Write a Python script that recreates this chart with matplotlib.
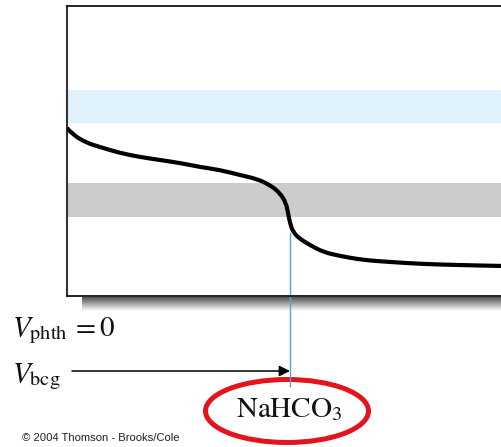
import matplotlib
matplotlib.use("Agg")
import matplotlib.pyplot as plt
import numpy as np
from matplotlib.patches import Ellipse, PathPatch
from matplotlib.path import Path

plt.rcParams['mathtext.fontset'] = 'stix'

# Titration curve (volume, potential)
volume = [0, 0.6, 2.0, 3.3, 5.3, 7.3, 9.3, 11.3, 13.3, 15.3, 17.3, 19.0, 20.3, 21.3,
          21.9, 22.1, 22.3, 22.6, 23.3, 24.3, 25.6, 27.3, 29.6, 32.3, 35.6, 39.0,
          43.5, 44.5]
potential = [16.8, 16.1, 15.3, 14.9, 14.3, 13.9, 13.6, 13.3, 12.9, 12.6, 12.1, 11.7,
             11.1, 10.3, 9.3, 8.3, 7.3, 6.4, 5.7, 5.1, 4.4, 4.0, 3.6, 3.4, 3.2, 3.1,
             3.0, 3.0]

# indicator transition ranges
phth_band = (17.3, 20.6)
bcg_band = (7.9, 11.3)
v_bcg = 22.3
endpoint_label = "NaHCO$_3$"

W, H = 502, 447
fig = plt.figure(figsize=(W / 100, H / 100), dpi=100)

def px_rect(x0, y0, x1, y1):
    return [x0 / W, 1 - y1 / H, (x1 - x0) / W, (y1 - y0) / H]

# shadow under the box
sax = fig.add_axes(px_rect(82, 297, 502, 311))
grad = np.linspace(0.33, 1.0, 64).reshape(-1, 1)
sax.imshow(grad, cmap='gray', vmin=0, vmax=1, aspect='auto', extent=[0, 1, 0, 1])
sax.set_axis_off()

ax = fig.add_axes(px_rect(67, 6, 512, 296))
ax.set_xlim(0, 44.5)
ax.set_ylim(0, 29)
ax.set_xticks([])
ax.set_yticks([])
for s in ['top', 'bottom']:
    ax.spines[s].set_color('#111111')
    ax.spines[s].set_linewidth(1.3)
ax.spines['left'].set_color('#333333')
ax.spines['left'].set_linewidth(1.5)
ax.spines['right'].set_visible(False)

ax.axhspan(*phth_band, color='#DFF1FB', lw=0, zorder=1)
ax.axhspan(*bcg_band, color='#CCCCCC', lw=0, zorder=1)

# smooth rendering of the read points (quadratic Bezier through midpoints)
pts = np.column_stack([volume, potential])
verts = [pts[0]]
codes = [Path.MOVETO]
for i in range(1, len(pts) - 1):
    mid = (pts[i] + pts[i + 1]) / 2
    verts += [pts[i], mid]
    codes += [Path.CURVE3, Path.CURVE3]
verts.append(pts[-1])
codes.append(Path.LINETO)
ax.add_patch(PathPatch(Path(verts, codes), fill=False, edgecolor='black', lw=3.0,
                       capstyle='butt', joinstyle='round', zorder=3))

# vertical endpoint line
ax.plot([v_bcg, v_bcg], [6.3, -9.0], color='#4FA9CB', lw=1.0, clip_on=False, zorder=2)

# arrow
ax.annotate('', xy=(v_bcg, -7.5), xytext=(0.5, -7.5),
            arrowprops=dict(arrowstyle='-|>', color='black', lw=1.1,
                            mutation_scale=16, shrinkA=0, shrinkB=0),
            annotation_clip=False)

ax.text(-5.45, -4.0, r"$V_{\mathrm{phth}}\,=0$", fontsize=21, ha='left', va='baseline',
        color='#111111')
ax.text(-5.45, -8.6, r"$V_{\mathrm{bcg}}$", fontsize=21, ha='left', va='baseline',
        color='#111111')

ell = Ellipse((22.0, -11.5), 16.3, 6.3, fill=False, edgecolor='#E3141B', lw=3.6,
              clip_on=False)
ax.add_patch(ell)
ax.text(22.2, -12.1, endpoint_label, fontsize=21, ha='center', va='baseline',
        color='#111111', family='STIXGeneral')

fig.text(22 / W, 1 - 441 / H, "\u00a9 2004 Thomson - Brooks/Cole", fontsize=8.1,
         family='Liberation Sans', color='#222222', ha='left', va='baseline')

fig.savefig('out.png', dpi=100)
